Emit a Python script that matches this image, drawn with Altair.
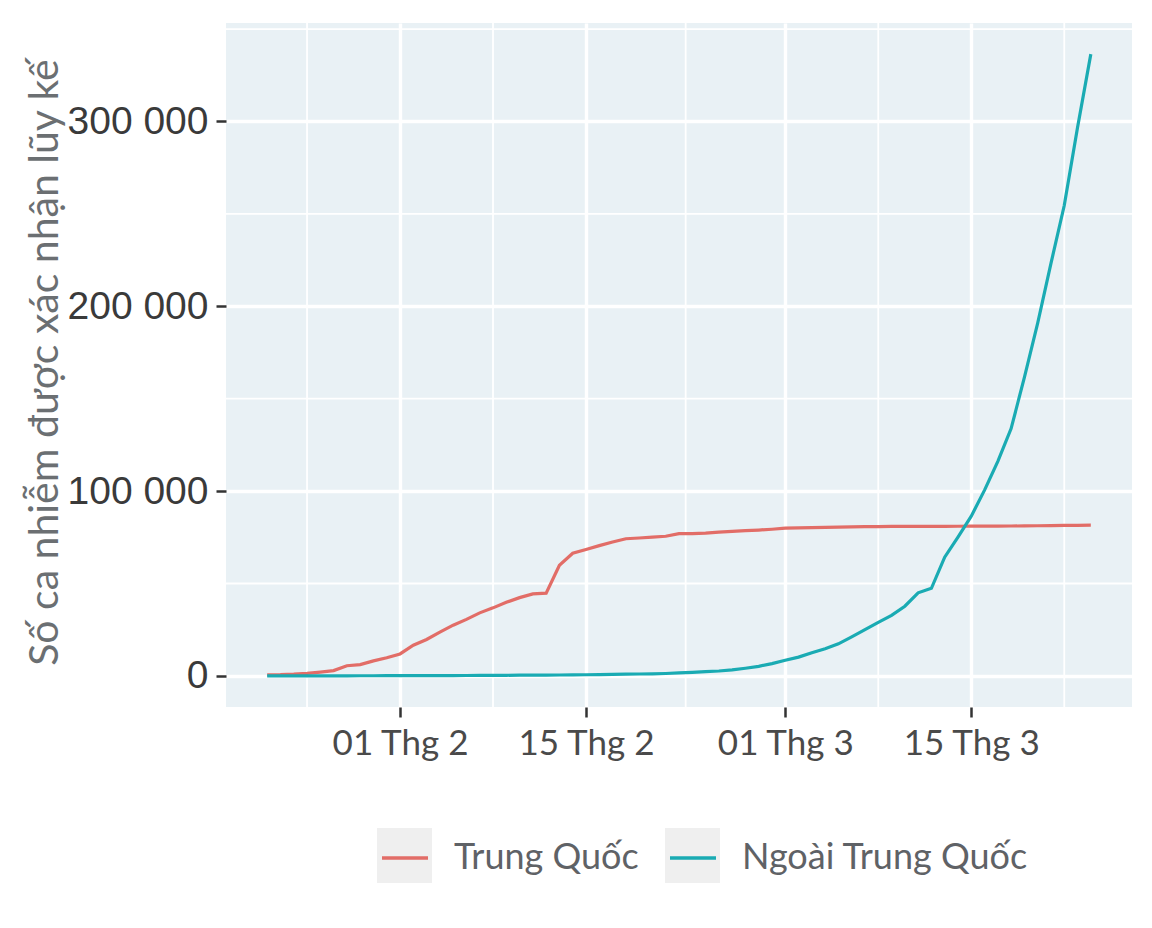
import altair as alt
import pandas as pd

# ---------------- data ----------------
dates = pd.date_range("2020-01-22", "2020-03-24", freq="D").strftime("%Y-%m-%d").tolist()

trung_quoc = [
    548, 643, 920, 1406, 2075, 2877, 5509, 6087, 8141, 9802,
    11891, 16630, 19716, 23707, 27440, 30587, 34110, 36814, 39829, 42354,
    44386, 44759, 59895, 66358, 68413, 70513, 72434, 74211, 74619, 75077,
    75550, 77001, 77022, 77241, 77754, 78166, 78600, 78928, 79356,
    79932, 80136, 80261, 80386, 80537, 80690, 80770, 80823, 80860, 80887,
    80921, 80932, 80945, 80977, 81003, 81033, 81058, 81102, 81156, 81250,
    81305, 81435, 81498, 81591,
]
ngoai_trung_quoc = [
    7, 11, 21, 28, 43, 50, 69, 79, 93, 125,
    147, 157, 171, 191, 203, 215, 285, 315, 331, 415,
    425, 470, 486, 549, 638, 722, 836, 940, 1029, 1122,
    1293, 1598, 1963, 2329, 2661, 3231, 4156, 5196, 6657,
    8439, 10173, 12583, 14738, 17349, 21110, 25066, 29012, 32722, 37695,
    44944, 47411, 64248, 75120, 86446, 100498, 116088, 133808, 161552, 190916,
    223219, 254520, 296737, 336454,
]
series_names = ["Trung Quốc", "Ngoài Trung Quốc"]
series_colors = ["#E26D67", "#1AABB3"]

y_major = [0, 100000, 200000, 300000]
y_minor = [50000, 150000, 250000, 350000]
x_minor = ["2020-01-25", "2020-02-08", "2020-02-22T12:00:00Z", "2020-03-08", "2020-03-22"]
x_major = [(2020, 2, 1), (2020, 2, 15), (2020, 3, 1), (2020, 3, 15)]

y_title = "Số ca nhiễm được xác nhận lũy kế"

# ---------------- table ----------------
df = pd.DataFrame({
    "date": dates * 2,
    "value": trung_quoc + ngoai_trung_quoc,
    "series": [series_names[0]] * len(dates) + [series_names[1]] * len(dates),
})

PANEL = "#E9F1F5"
FONT = "Lato"

x_scale = alt.Scale(
    type="utc",
    domain=[
        alt.DateTime(year=2020, month=1, date=18, hours=21, minutes=36, utc=True),
        alt.DateTime(year=2020, month=3, date=27, hours=2, minutes=24, utc=True),
    ],
    nice=False,
)
y_scale = alt.Scale(domain=[-16823, 353277], nice=False, zero=False)

x_axis = alt.Axis(
    values=[alt.DateTime(year=y, month=m, date=d, utc=True) for (y, m, d) in x_major],
    labelExpr="utcFormat(datum.value, '%d') + ' Thg ' + (utcmonth(datum.value) + 1)",
    labelFont=FONT, labelFontSize=35, labelColor="#4a4a4a", labelPadding=9,
    tickColor="#333333", tickWidth=2.5, tickSize=10,
    domain=False, grid=True, gridColor="white", gridWidth=3.4,
    title=None,
)
y_axis = alt.Axis(
    values=y_major,
    labelExpr="replace(format(datum.value, ','), ',', ' ')",
    labelFont="Liberation Sans", labelFontSize=39, labelColor="#3a3a3a", labelPadding=8,
    tickColor="#333333", tickWidth=2.5, tickSize=10,
    domain=False, grid=True, gridColor="white", gridWidth=3.4,
    title=y_title, titleFont=FONT, titleFontSize=41, titleColor="#6b6f72",
    titleFontWeight="normal", titleAngle=270, titleAlign="center", titleBaseline="middle",
    titleX=-181, titleY=339,
)

minor_x = alt.Chart(pd.DataFrame({"date": x_minor})).mark_rule(
    color="white", strokeWidth=1.8
).encode(x=alt.X("date:T", scale=x_scale, axis=x_axis))

minor_y = alt.Chart(pd.DataFrame({"value": y_minor})).mark_rule(
    color="white", strokeWidth=1.8
).encode(y=alt.Y("value:Q", scale=y_scale, axis=y_axis))

legend_boxes = alt.Chart(pd.DataFrame({"k": series_names})).mark_rect(
    color="#EFEFEF"
).encode(
    x=alt.value(151), x2=alt.value(206), y=alt.value(805), y2=alt.value(860)
).transform_filter(alt.datum.k == series_names[0])

legend_boxes2 = alt.Chart(pd.DataFrame({"k": series_names})).mark_rect(
    color="#EFEFEF"
).encode(
    x=alt.value(439), x2=alt.value(494), y=alt.value(805), y2=alt.value(860)
).transform_filter(alt.datum.k == series_names[1])

lines = alt.Chart(df).mark_line(strokeWidth=3.2).encode(
    x=alt.X("date:T", scale=x_scale, axis=x_axis),
    y=alt.Y("value:Q", scale=y_scale, axis=y_axis),
    color=alt.Color(
        "series:N",
        scale=alt.Scale(domain=series_names, range=series_colors),
        sort=series_names,
        legend=alt.Legend(
            title=None, orient="none", legendX=154, legendY=810, direction="horizontal",
            symbolType="stroke", symbolSize=2116, symbolStrokeWidth=3.5,
            labelFont=FONT, labelFontSize=36, labelColor="#5f6266", labelLimit=500,
            labelOffset=24, columnPadding=24, padding=0,
        ),
    ),
)

chart = alt.layer(minor_x, minor_y, legend_boxes, legend_boxes2, lines).properties(
    width=906, height=684,
    padding={"left": 226, "top": 23, "right": 20, "bottom": 221},
    autosize=alt.AutoSizeParams(type="none"),
    background="white",
).configure_view(fill=PANEL, stroke=None)

chart.save("out.html", embed_options={"renderer": "svg", "actions": False})
